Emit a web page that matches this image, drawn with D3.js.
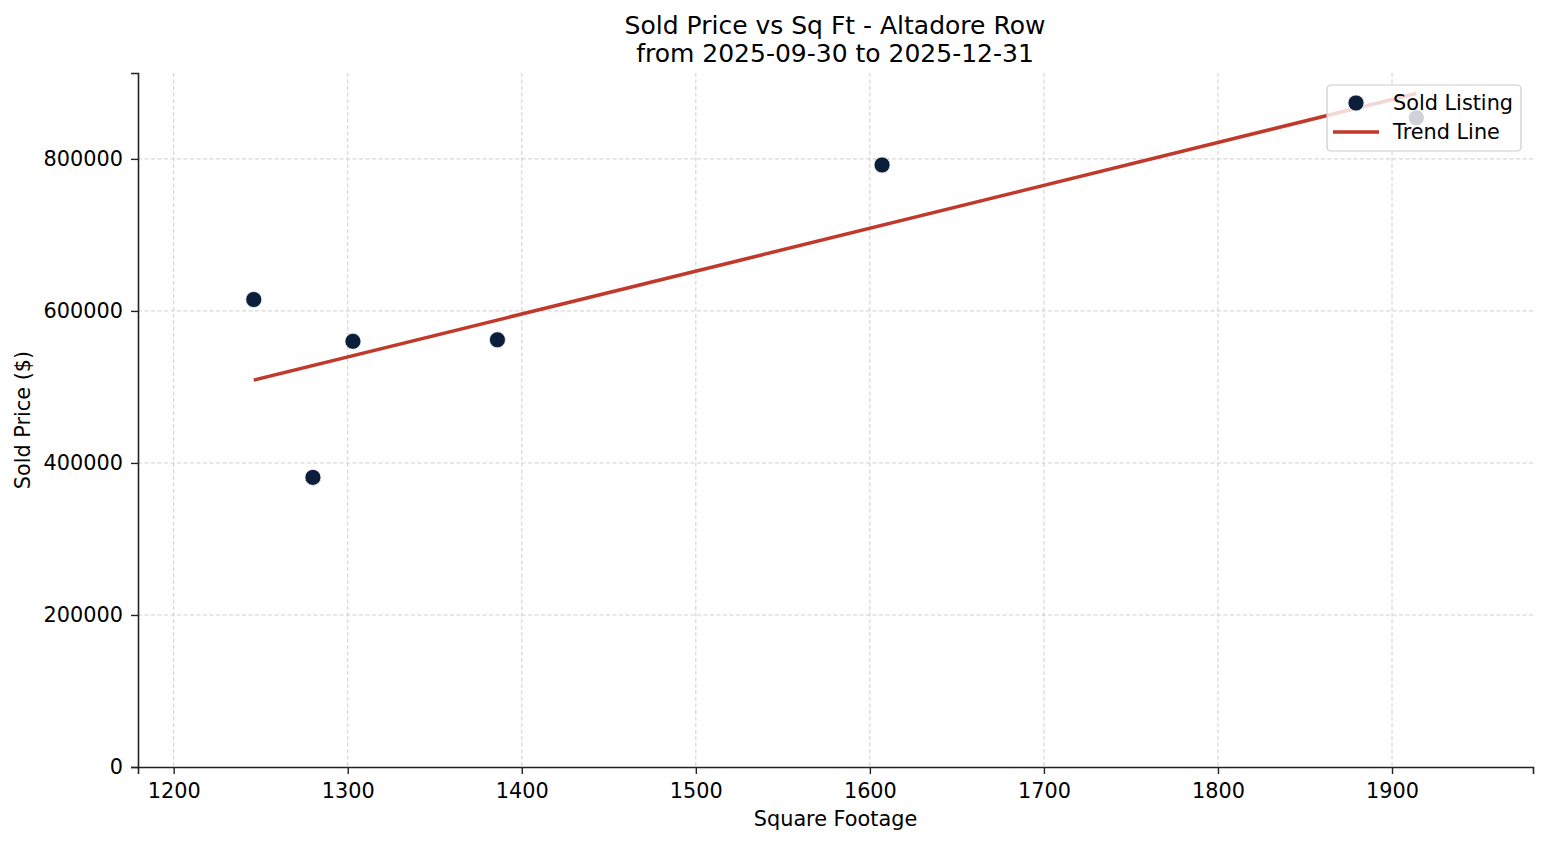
<!DOCTYPE html>
<html>
<head>
<meta charset="utf-8">
<script src="https://cdn.jsdelivr.net/npm/d3@7"></script>
<style>
  body { margin: 0; background: #fff; }
  text { font-family: "DejaVu Sans", sans-serif; fill: #000; }
</style>
</head>
<body>
<div id="chart"></div>
<script>
// data
var sqft = [1246, 1280, 1303, 1386, 1607, 1914];
var soldPrice = [615000, 381000, 560000, 562000, 792000, 854000];
var trendSqft = [1246, 1914];
var trendPrice = [509000, 886000];
var xTicks = [1200, 1300, 1400, 1500, 1600, 1700, 1800, 1900];
var yTicks = [0, 200000, 400000, 600000, 800000];

var W = 1547, H = 845;
var margin = { left: 138, right: 14, top: 73, bottom: 78 };
var width = W - margin.left - margin.right;
var height = H - margin.top - margin.bottom;
var fs = 20.8;

var svg = d3.select("#chart").append("svg")
    .attr("width", W)
    .attr("height", H);

var g = svg.append("g")
    .attr("transform", "translate(" + margin.left + "," + margin.top + ")");

// Scales
var x = d3.scaleLinear().domain([1179.5, 1981]).range([0, width]);
var y = d3.scaleLinear().domain([0, 913000]).range([height, 0]);

// Grid
g.append("g").selectAll("line").data(xTicks).enter().append("line")
    .attr("x1", d => x(d)).attr("x2", d => x(d))
    .attr("y1", 0).attr("y2", height)
    .attr("stroke", "#c8c8c8")
    .attr("stroke-width", 0.9).attr("stroke-dasharray", "4,2.5");
g.append("g").selectAll("line").data(yTicks.slice(1)).enter().append("line")
    .attr("x1", 0).attr("x2", width)
    .attr("y1", d => y(d)).attr("y2", d => y(d))
    .attr("stroke", "#c8c8c8")
    .attr("stroke-width", 0.9).attr("stroke-dasharray", "4,2.5");

// Axes
var xAxis = d3.axisBottom(x).tickValues(xTicks).tickFormat(d3.format("d")).tickSizeOuter(0).tickSize(7).tickPadding(9);
var gx = g.append("g").attr("transform", "translate(0," + height + ")").call(xAxis);
var yAxis = d3.axisLeft(y).tickValues(yTicks).tickFormat(d3.format("d")).tickSizeOuter(0).tickSize(7).tickPadding(8);
var gy = g.append("g").call(yAxis);
[gx, gy].forEach(a => {
    a.select(".domain").attr("stroke", "#222").attr("stroke-width", 1.6);
    a.selectAll(".tick line").attr("stroke", "#222").attr("stroke-width", 1.4);
    a.selectAll(".tick text").attr("font-size", fs).attr("fill", "#000")
        .style("font-family", "DejaVu Sans");
});

// Trend line
var line = d3.line().x(d => x(d[0])).y(d => y(d[1]));
g.append("path")
    .datum(d3.zip(trendSqft, trendPrice))
    .attr("d", line)
    .attr("fill", "none")
    .attr("stroke", "#c0392b")
    .attr("stroke-width", 3.5);

// Points
g.selectAll("circle.pt").data(d3.zip(sqft, soldPrice)).enter().append("circle")
    .attr("class", "pt")
    .attr("cx", d => x(d[0]))
    .attr("cy", d => y(d[1]))
    .attr("r", 8)
    .attr("fill", "#0b1f3a")
    .attr("stroke", "#fff")
    .attr("stroke-width", 0.7);

// Titles
svg.append("text").attr("x", 835).attr("y", 34).attr("text-anchor", "middle")
    .attr("font-size", 25).text("Sold Price vs Sq Ft - Altadore Row");
svg.append("text").attr("x", 835).attr("y", 62).attr("text-anchor", "middle")
    .attr("font-size", 25).text("from 2025-09-30 to 2025-12-31");
svg.append("text").attr("x", margin.left + width / 2).attr("y", 826).attr("text-anchor", "middle")
    .attr("font-size", fs).text("Square Footage");
svg.append("text").attr("transform", "translate(30," + (margin.top + height / 2) + ") rotate(-90)")
    .attr("text-anchor", "middle").attr("font-size", fs).text("Sold Price ($)");

// Legend
var lg = svg.append("g").attr("transform", "translate(1327,85)");
lg.append("rect").attr("width", 194).attr("height", 66).attr("rx", 4)
    .attr("fill", "#fff").attr("fill-opacity", 0.8)
    .attr("stroke", "#ccc").attr("stroke-width", 1.2);
lg.append("circle").attr("cx", 29).attr("cy", 18).attr("r", 8).attr("fill", "#0b1f3a")
    .attr("stroke", "#fff").attr("stroke-width", 0.7);
lg.append("text").attr("x", 66).attr("y", 25).attr("font-size", fs).text("Sold Listing");
lg.append("line").attr("x1", 6).attr("x2", 52).attr("y1", 47).attr("y2", 47)
    .attr("stroke", "#c0392b").attr("stroke-width", 3.5);
lg.append("text").attr("x", 66).attr("y", 54).attr("font-size", fs).text("Trend Line");
</script>
</body>
</html>
